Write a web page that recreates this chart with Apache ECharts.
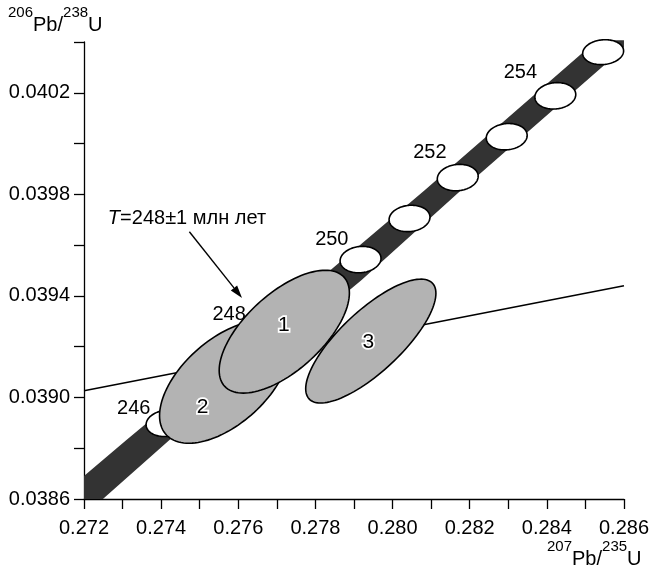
<!DOCTYPE html>
<html><head><meta charset="utf-8">
<script src="https://cdn.jsdelivr.net/npm/echarts@6/dist/echarts.min.js"></script>
<style>html,body{margin:0;padding:0;background:#fff}#c{width:652px;height:566px}</style>
</head><body><div id="c"></div>
<script>
// Concordia age points (Ma) and their positions
const ages = [246, 247, 248, 249, 250, 251, 252, 253, 254, 255];
const concX = [0.27414, 0.27540, 0.27665, 0.27791, 0.27917, 0.28044, 0.28169, 0.28296, 0.28422, 0.28546];
const concY = [0.038898, 0.039059, 0.039221, 0.039382, 0.039543, 0.039705, 0.039866, 0.040027, 0.040188, 0.040360];
const concErrX = [0.00053, 0.00053, 0.00053, 0.00053, 0.00053, 0.00053, 0.00053, 0.00053, 0.00053, 0.00053];
const concErrY = [0.000052, 0.000052, 0.000052, 0.000052, 0.000052, 0.000052, 0.000052, 0.000052, 0.000052, 0.000049];
const concRho = [0.1, 0.1, 0.1, 0.1, 0.1, 0.1, 0.1, 0.1, 0.1, 0.1];

// Concordia error band outline
const bandX = [0.272, 0.27310, 0.27834, 0.280832, 0.285299, 0.286, 0.286, 0.285686, 0.281776, 0.279198, 0.274216, 0.27249, 0.272];
const bandY = [0.0386906, 0.0388323, 0.0394949, 0.0398165, 0.0404071, 0.0404071, 0.0403795, 0.040335, 0.0398165, 0.0394622, 0.0388323, 0.0386, 0.0386];

// Sample ellipses
const sampNames = ['1', '2', '3'];
const sampX = [0.277193, 0.275647, 0.279436];
const sampY = [0.039259, 0.0390606, 0.039222];
const sampErrX = [0.001688, 0.001688, 0.001688];
const sampErrY = [0.000242, 0.000241, 0.000244];
const sampRho = [0.63, 0.55, 0.77];
const sampOrder = [2, 1, 3];
const sampLabelX = [0.27718, 0.275075, 0.279371];
const sampLabelY = [0.039285, 0.0389634, 0.0392193];

// Discordia
const discX = [0.272, 0.286];
const discY = [0.039026, 0.039440];

// Age labels
const ageLabelText = ['246', '248', '250', '252', '254'];
const ageLabelX = [0.273289, 0.275763, 0.278425, 0.280969, 0.283314];
const ageLabelY = [0.0389583, 0.0393264, 0.0396236, 0.0399661, 0.0402811];

// Annotation
const annText = '=248±1 млн лет';
const annX = 0.272619, annY = 0.0397063;
const arrowX = [0.274732, 0.276098];
const arrowY = [0.0396524, 0.0393913];

const FONT = '"Liberation Sans", Arial, sans-serif';

function ellipsePts(api, cx, cy, sx, sy, rho) {
  const pts = [], r = Math.sqrt(1 - rho * rho), n = 120;
  for (let k = 0; k < n; k++) {
    const t = 2 * Math.PI * k / n;
    pts.push(api.coord([cx + sx * Math.cos(t), cy + sy * (rho * Math.cos(t) + r * Math.sin(t))]));
  }
  return pts;
}

const titleRich = {
  s: {fontSize: 15, fontFamily: FONT, fill: '#000', lineHeight: 16, verticalAlign: 'top'},
  m: {fontSize: 20, fontFamily: FONT, fill: '#000', lineHeight: 30, verticalAlign: 'bottom'}
};

const chart = echarts.init(document.getElementById('c'), null, {renderer: 'canvas'});
chart.setOption({
  animation: false,
  backgroundColor: '#fff',
  grid: {left: 84, right: 25, top: 42, bottom: 67, containLabel: false},
  xAxis: {
    type: 'value', min: 0.272, max: 0.286, interval: 0.001,
    axisLine: {show: true, onZero: false, lineStyle: {color: '#000', width: 1.3}},
    axisTick: {show: true, inside: false, length: 10, lineStyle: {color: '#000', width: 1.3}},
    splitLine: {show: false},
    axisLabel: {
      color: '#000', fontSize: 20, fontFamily: FONT, margin: 19,
      formatter: v => (Math.round(v * 1000) % 2 === 0 ? v.toFixed(3) : '')
    }
  },
  yAxis: {
    type: 'value', min: 0.0386, max: 0.0404, interval: 0.0002,
    axisLine: {show: true, onZero: false, lineStyle: {color: '#000', width: 1.3}},
    axisTick: {show: true, inside: false, length: 10, lineStyle: {color: '#000', width: 1.3}},
    splitLine: {show: false},
    axisLabel: {
      color: '#000', fontSize: 20, fontFamily: FONT, margin: 14,
      formatter: v => (Math.round((v - 0.0386) / 0.0002) % 2 === 0 ? v.toFixed(4) : '')
    }
  },
  graphic: [
    {type: 'text', left: 8, top: 5, silent: true, style: {
      text: '{s|206}{m|Pb/}{s|238}{m|U}', fill: '#000', rich: titleRich}},
    {type: 'text', left: 547, top: 539, silent: true, style: {
      text: '{s|207}{m|Pb/}{s|235}{m|U}', fill: '#000', rich: titleRich}}
  ],
  series: [
    { // band
      type: 'custom', silent: true, clip: false, z: 1,
      data: [[bandX[0], bandY[0]]], encode: {x: 0, y: 1},
      renderItem: (p, api) => ({
        type: 'polygon',
        shape: {points: bandX.map((x, i) => api.coord([x, bandY[i]]))},
        style: {fill: '#333333'}
      })
    },
    { // concordia age ellipses
      type: 'custom', silent: true, clip: false, z: 2,
      data: concX.map((x, i) => [x, concY[i], ages[i]]), encode: {x: 0, y: 1},
      renderItem: (p, api) => {
        const i = p.dataIndex;
        return {type: 'polygon',
          shape: {points: ellipsePts(api, concX[i], concY[i], concErrX[i], concErrY[i], concRho[i])},
          style: {fill: '#fff', stroke: '#000', lineWidth: 1.6}};
      }
    },
    { // discordia
      type: 'line', silent: true, symbol: 'none', z: 3,
      data: discX.map((x, i) => [x, discY[i]]),
      lineStyle: {color: '#000', width: 1.5}
    },
    { // sample ellipses
      type: 'custom', silent: true, clip: false, z: 4,
      data: sampX.map((x, i) => [x, sampY[i]]), encode: {x: 0, y: 1},
      renderItem: (p, api) => {
        const i = p.dataIndex;
        return {type: 'polygon', z2: sampOrder[i],
          shape: {points: ellipsePts(api, sampX[i], sampY[i], sampErrX[i], sampErrY[i], sampRho[i])},
          style: {fill: '#b3b3b3', stroke: '#000', lineWidth: 1.6}};
      }
    },
    { // sample labels
      type: 'custom', silent: true, clip: false, z: 5,
      data: sampLabelX.map((x, i) => [x, sampLabelY[i]]), encode: {x: 0, y: 1},
      renderItem: (p, api) => {
        const i = p.dataIndex, c = api.coord([sampLabelX[i], sampLabelY[i]]);
        return {type: 'text', x: c[0], y: c[1],
          style: {text: sampNames[i], fill: '#000', stroke: '#fff', lineWidth: 3.5, strokeFirst: true,
            font: '21px ' + FONT, align: 'center', verticalAlign: 'middle'}};
      }
    },
    { // age labels
      type: 'custom', silent: true, clip: false, z: 5,
      data: ageLabelX.map((x, i) => [x, ageLabelY[i]]), encode: {x: 0, y: 1},
      renderItem: (p, api) => {
        const i = p.dataIndex, c = api.coord([ageLabelX[i], ageLabelY[i]]);
        return {type: 'text', x: c[0], y: c[1],
          style: {text: ageLabelText[i], fill: '#000', font: '20px ' + FONT, align: 'center', verticalAlign: 'middle'}};
      }
    },
    { // annotation text + arrow
      type: 'custom', silent: true, clip: false, z: 5,
      data: [[annX, annY]], encode: {x: 0, y: 1},
      renderItem: (p, api) => {
        const t = api.coord([annX, annY]);
        const a0 = api.coord([arrowX[0], arrowY[0]]), a1 = api.coord([arrowX[1], arrowY[1]]);
        const dx = a1[0] - a0[0], dy = a1[1] - a0[1], L = Math.hypot(dx, dy);
        const ux = dx / L, uy = dy / L, nx = -uy, ny = ux, hl = 13, hw = 4;
        const bx = a1[0] - ux * hl, by = a1[1] - uy * hl;
        return {type: 'group', children: [
          {type: 'text', x: t[0], y: t[1], style: {
            text: '{i|T}' + annText, fill: '#000', font: '20px ' + FONT, align: 'left', verticalAlign: 'middle',
            rich: {i: {fontStyle: 'italic', fontSize: 20, fontFamily: FONT, fill: '#000'}}}},
          {type: 'line', shape: {x1: a0[0], y1: a0[1], x2: bx, y2: by}, style: {stroke: '#000', lineWidth: 1.4}},
          {type: 'polygon', shape: {points: [a1, [bx + nx * hw, by + ny * hw], [bx - nx * hw, by - ny * hw]]}, style: {fill: '#000'}}
        ]};
      }
    }
  ]
});
</script></body></html>
